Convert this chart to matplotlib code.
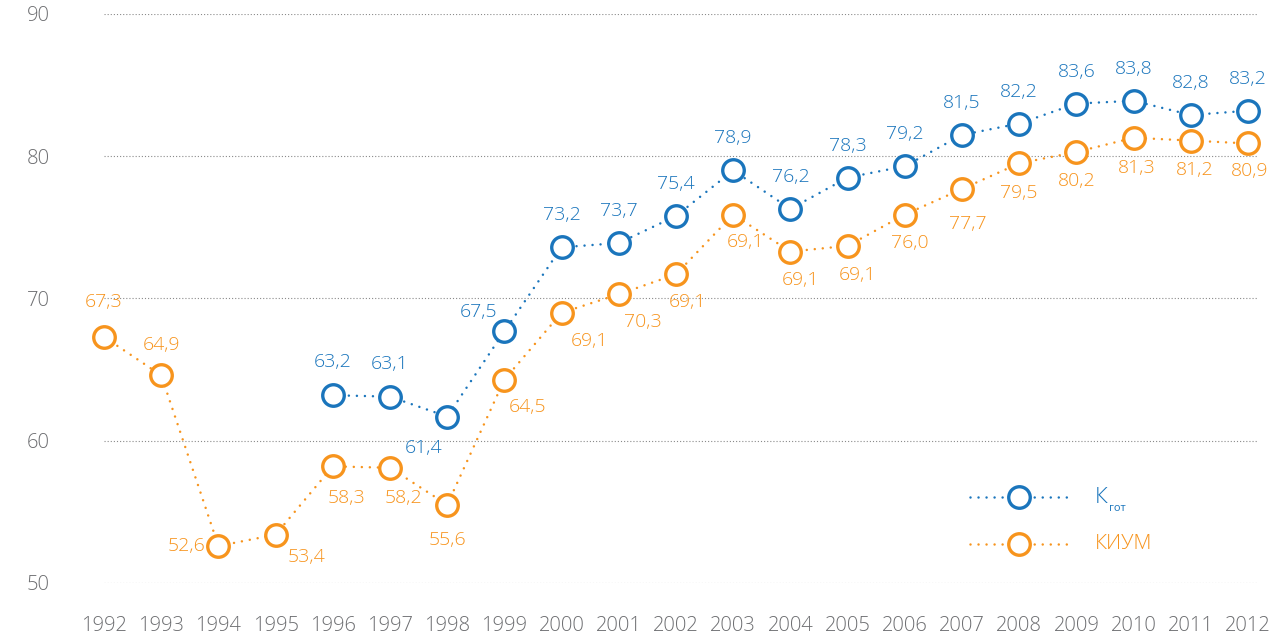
import numpy as np
import matplotlib
matplotlib.use('Agg')
import matplotlib.pyplot as plt

plt.rcParams['font.family'] = ['Open Sans', 'DejaVu Sans']

# данные
years = list(range(1992, 2013))
k_years = list(range(1996, 2013))
k_got = [63.2, 63.1, 61.7, 67.7, 73.6, 73.9, 75.8, 79.0, 76.3, 78.5, 79.3,
         81.5, 82.3, 83.7, 83.9, 82.9, 83.2]
k_got_labels = ['63,2', '63,1', '61,4', '67,5', '73,2', '73,7', '75,4', '78,9',
                '76,2', '78,3', '79,2', '81,5', '82,2', '83,6', '83,8', '82,8', '83,2']
kium = [67.3, 64.6, 52.6, 53.4, 58.2, 58.1, 55.5, 64.3, 69.0, 70.3, 71.7,
        75.9, 73.3, 73.7, 75.9, 77.7, 79.5, 80.3, 81.3, 81.1, 80.9]
kium_labels = ['67,3', '64,9', '52,6', '53,4', '58,3', '58,2', '55,6', '64,5',
               '69,1', '70,3', '69,1', '69,1', '69,1', '69,1', '76,0', '77,7',
               '79,5', '80,2', '81,3', '81,2', '80,9']

BLUE = '#1a75bc'
ORANGE = '#f7941d'
GRAY = '#6d6e71'

# смещения подписей (пиксели: вправо, вниз)
k_off = [(0, -33), (0, -33), (-24, 31), (-26, -19)] + [(0, -32)] * 13
kium_off = [(0, -35), (0, -30), (-32, 0), (31, 22), (14, 32), (14, 30), (0, 35),
            (23, 27), (28, 28), (24, 28), (11, 28), (12, 27), (10, 28), (10, 29),
            (5, 28), (6, 35), (0, 30), (0, 29), (3, 30), (4, 29), (2, 28)]

fig = plt.figure(figsize=(12.8, 6.4), dpi=100)
ax = fig.add_axes([80 / 1280, 1 - 583 / 640, 1190 / 1280, 569 / 640])
ax.set_xlim(1991.58, 2012.385)
ax.set_ylim(50, 90)

# сетка
for v in [50, 60, 70, 80, 90]:
    ax.hlines(v, 1992, 2012.18, colors='#8a8a8a', linestyles=(0, (1, 1.8)), lw=0.8, zorder=1)

ms = 15.5
mew = 2.4
DOTS = (0, (0.01, 3.2))
line_kw = dict(ls=DOTS, lw=1.8, dash_capstyle='round', marker='o', ms=ms,
               mfc='white', mew=mew, clip_on=False)
ax.plot(years, kium, color=ORANGE, mec=ORANGE, zorder=3, **line_kw)
ax.plot(k_years, k_got, color=BLUE, mec=BLUE, zorder=4, **line_kw)

def put_labels(xs, ys, labels, offs, color):
    for x, y, t, (dx, dy) in zip(xs, ys, labels, offs):
        ax.annotate(t, (x, y), xytext=(dx * 0.72, -dy * 0.72), textcoords='offset points',
                    ha='center', va='center', fontsize=14, color=color, fontweight='light')

put_labels(k_years, k_got, k_got_labels, k_off, BLUE)
put_labels(years, kium, kium_labels, kium_off, ORANGE)

ax.set_xticks(years)
ax.set_xticklabels([str(y) for y in years])
ax.set_yticks([50, 60, 70, 80, 90])
ax.tick_params(length=0, labelsize=14.5, labelcolor=GRAY)
ax.tick_params(axis='y', pad=22)
ax.tick_params(axis='x', pad=24)
for lab in ax.get_xticklabels() + ax.get_yticklabels():
    lab.set_fontweight('light')
for s in ax.spines.values():
    s.set_visible(False)

# легенда
for yy, col in [(0.151, BLUE), (0.069, ORANGE)]:
    ax.plot([0.748, 0.789, 0.830], [yy] * 3, transform=ax.transAxes, color=col,
            mec=col, markevery=[1], **line_kw)
ax.text(0.853, 0.151, 'К', transform=ax.transAxes, fontsize=16, color=BLUE,
        va='center', ha='left', fontweight='light')
ax.text(0.865, 0.131, 'гот', transform=ax.transAxes, fontsize=8, color=BLUE,
        va='center', ha='left')
ax.text(0.853, 0.069, 'КИУМ', transform=ax.transAxes, fontsize=15, color=ORANGE,
        va='center', ha='left', fontweight='light')

fig.savefig('out.png', dpi=100)
